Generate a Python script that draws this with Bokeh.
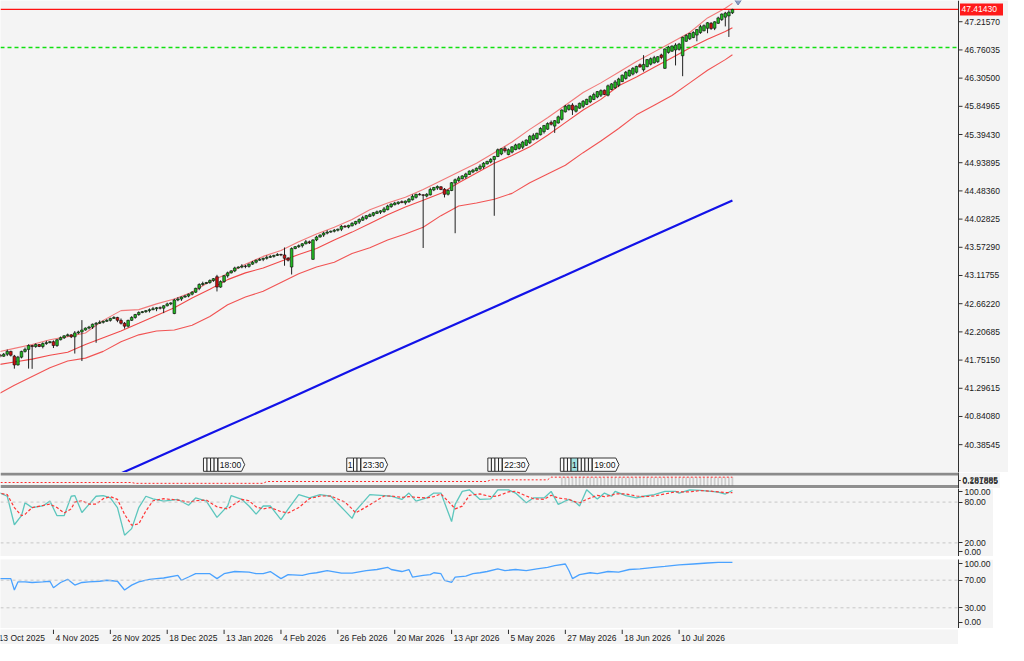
from bokeh.plotting import figure
from bokeh.layouts import column
from bokeh.models import (Range1d, FixedTicker, Span, PrintfTickFormatter,
                          CustomJSTickFormatter, Grid, BoxAnnotation)
from bokeh.core.properties import value
from bokeh.embed import file_html
from bokeh.resources import INLINE

BG = "#f4f4f4"
FONT = "Liberation Sans"
FS = "8.5px"
FW = 958          # plotting-frame width (px)
AW = 50           # width of the price-axis strip of the main panel (px)

# ---------------- data ----------------
tick_bars = [0, 16, 32, 48, 64, 80, 96, 112, 128, 144, 160, 176, 192]
date_labels = ["13 Oct 2025", "4 Nov 2025", "26 Nov 2025", "18 Dec 2025", "13 Jan 2026",
               "4 Feb 2026", "26 Feb 2026", "20 Mar 2026", "13 Apr 2026", "5 May 2026",
               "27 May 2026", "18 Jun 2026", "10 Jul 2026"]

price_ticks = [40.38545, 40.84080, 41.29615, 41.75150, 42.20685, 42.66220, 43.11755, 43.57290,
               44.02825, 44.48360, 44.93895, 45.39430, 45.84965, 46.30500, 46.76035, 47.21570]

closes = [
    41.830, 41.814, 41.846, 41.892, 41.830, 41.673, 41.799, 41.892, 41.924, 41.986,
    41.970, 42.002, 41.971, 42.018, 42.033, 42.049, 41.986, 42.080, 42.112, 42.143,
    42.159, 42.127, 42.190, 42.206, 42.237, 42.268, 42.284, 42.331, 42.346, 42.362,
    42.378, 42.393, 42.425, 42.440, 42.393, 42.346, 42.299, 42.393, 42.440, 42.487,
    42.519, 42.534, 42.550, 42.566, 42.581, 42.597, 42.590, 42.628, 42.659, 42.675,
    42.722, 42.738, 42.769, 42.785, 42.816, 42.847, 42.910, 42.972, 42.988, 43.004,
    43.035, 43.066, 42.930, 43.019, 43.113, 43.160, 43.192, 43.239, 43.254, 43.270,
    43.265, 43.301, 43.332, 43.364, 43.379, 43.395, 43.411, 43.426, 43.442, 43.458,
    43.450, 43.395, 43.364, 43.552, 43.583, 43.599, 43.630, 43.661, 43.646, 43.692,
    43.739, 43.771, 43.802, 43.818, 43.833, 43.849, 43.865, 43.912, 43.900, 43.927,
    43.959, 43.990, 44.021, 44.052, 44.084, 44.099, 44.131, 44.146, 44.162, 44.193,
    44.240, 44.272, 44.287, 44.303, 44.295, 44.319, 44.350, 44.397, 44.428, 44.420,
    44.412, 44.428, 44.506, 44.538, 44.553, 44.506, 44.428, 44.491, 44.616, 44.663,
    44.694, 44.726, 44.757, 44.804, 44.819, 44.851, 44.882, 44.929, 44.960, 44.992,
    45.039, 45.148, 45.164, 45.132, 45.148, 45.195, 45.226, 45.242, 45.273, 45.305,
    45.367, 45.383, 45.414, 45.492, 45.539, 45.571, 45.560, 45.618, 45.680, 45.790,
    45.852, 45.868, 45.790, 45.852, 45.899, 45.931, 45.962, 46.009, 46.040, 46.087,
    46.103, 46.040, 46.181, 46.212, 46.244, 46.291, 46.353, 46.400, 46.432, 46.463,
    46.494, 46.485, 46.526, 46.604, 46.619, 46.635, 46.651, 46.640, 46.776, 46.807,
    46.823, 46.839, 46.854, 46.964, 46.995, 47.026, 47.042, 47.089, 47.136, 47.152,
    47.199, 47.105, 47.214, 47.277, 47.339, 47.355, 47.371, 47.4143,
]

opens = [
    41.845, 41.830, 41.814, 41.846, 41.892, 41.815, 41.673, 41.799, 41.892, 41.924,
    41.986, 41.970, 42.002, 41.971, 42.018, 42.033, 42.049, 41.986, 42.080, 42.112,
    42.143, 42.159, 42.127, 42.190, 42.206, 42.237, 42.268, 42.284, 42.331, 42.346,
    42.362, 42.378, 42.393, 42.425, 42.440, 42.393, 42.346, 42.299, 42.393, 42.440,
    42.487, 42.519, 42.534, 42.550, 42.566, 42.581, 42.597, 42.590, 42.628, 42.659,
    42.503, 42.722, 42.738, 42.769, 42.785, 42.816, 42.847, 42.910, 42.972, 42.988,
    43.004, 43.035, 43.098, 42.930, 43.019, 43.113, 43.160, 43.192, 43.239, 43.254,
    43.270, 43.265, 43.301, 43.332, 43.364, 43.379, 43.395, 43.411, 43.426, 43.442,
    43.458, 43.450, 43.395, 43.254, 43.552, 43.583, 43.599, 43.630, 43.661, 43.379,
    43.692, 43.739, 43.771, 43.802, 43.818, 43.833, 43.849, 43.865, 43.912, 43.900,
    43.920, 43.950, 43.980, 44.010, 44.040, 44.070, 44.090, 44.120, 44.140, 44.150,
    44.180, 44.230, 44.260, 44.280, 44.310, 44.290, 44.310, 44.340, 44.380, 44.430,
    44.420, 44.400, 44.420, 44.500, 44.530, 44.550, 44.510, 44.430, 44.490, 44.610,
    44.650, 44.680, 44.710, 44.750, 44.790, 44.810, 44.840, 44.870, 44.920, 44.950,
    44.992, 45.039, 45.080, 45.170, 45.070, 45.110, 45.150, 45.170, 45.190, 45.220,
    45.260, 45.310, 45.330, 45.390, 45.440, 45.480, 45.590, 45.530, 45.580, 45.640,
    45.760, 45.800, 45.870, 45.770, 45.820, 45.850, 45.880, 45.920, 45.960, 46.000,
    46.030, 46.110, 46.030, 46.120, 46.150, 46.190, 46.250, 46.300, 46.340, 46.370,
    46.400, 46.520, 46.440, 46.490, 46.530, 46.550, 46.570, 46.680, 46.463, 46.720,
    46.740, 46.760, 46.770, 46.666, 46.900, 46.940, 46.960, 47.000, 47.040, 47.070,
    47.110, 47.190, 47.110, 47.190, 47.250, 47.290, 47.310, 47.360,
]

# wick lengths above / below the body, in hundredths of a price unit
up_wick = [
    2, 1, 2, 3, 1, 2, 2, 1, 3, 2, 1, 2, 1, 2, 3, 1, 2, 1, 2, 1,
    2, 1, 3, 2, 16, 1, 2, 1, 2, 3, 1, 2, 1, 2, 1, 3, 2, 1, 2, 1,
    2, 1, 1, 2, 3, 1, 2, 1, 2, 1, 2, 3, 1, 2, 1, 2, 1, 2, 3, 1,
    2, 1, 3, 2, 1, 2, 1, 2, 1, 3, 2, 1, 2, 1, 2, 1, 3, 2, 1, 2,
    1, 12, 2, 2, 1, 2, 1, 3, 2, 1, 2, 1, 2, 3, 1, 2, 1, 2, 2, 1,
    2, 1, 2, 3, 1, 2, 1, 2, 1, 3, 2, 1, 2, 1, 2, 1, 2, 3, 1, 2,
    1, 2, 3, 1, 2, 1, 2, 2, 1, 2, 3, 1, 2, 1, 2, 1, 3, 2, 1, 2,
    1, 2, 1, 3, 2, 1, 2, 1, 2, 1, 2, 3, 1, 2, 1, 2, 3, 1, 2, 1,
    2, 1, 3, 2, 1, 2, 1, 2, 3, 1, 2, 1, 2, 1, 3, 2, 1, 2, 1, 2,
    1, 2, 15, 1, 2, 3, 1, 2, 1, 2, 1, 3, 2, 1, 2, 1, 2, 1, 3, 2,
    1, 2, 1, 2, 1, 2, 3, 1,
]
dn_wick = [
    2, 2, 1, 3, 2, 6, 1, 2, 2, 31, 36, 2, 1, 3, 2, 1, 4, 2, 1, 2,
    1, 2, 27, 2, 47, 1, 2, 3, 30, 1, 2, 1, 2, 1, 3, 2, 4, 2, 1, 2,
    2, 1, 2, 3, 1, 4, 2, 8, 1, 2, 1, 2, 3, 1, 2, 2, 1, 3, 2, 1,
    2, 2, 7, 1, 2, 3, 1, 2, 1, 2, 3, 2, 1, 2, 1, 3, 2, 1, 2, 1,
    2, 12, 2, 12, 1, 2, 3, 1, 2, 1, 2, 1, 3, 2, 1, 2, 2, 3, 1, 2,
    1, 2, 3, 1, 2, 1, 2, 1, 3, 2, 1, 2, 1, 2, 1, 3, 2, 1, 2, 1,
    85, 2, 1, 2, 3, 1, 5, 2, 1, 81, 2, 1, 3, 1, 2, 1, 2, 3, 1, 2,
    91, 1, 2, 3, 1, 2, 1, 2, 3, 1, 2, 1, 2, 1, 3, 1, 2, 11, 1, 2,
    1, 2, 8, 2, 1, 3, 1, 2, 1, 2, 3, 1, 2, 1, 2, 3, 1, 2, 1, 2,
    2, 1, 3, 1, 2, 1, 2, 3, 1, 2, 1, 25, 2, 33, 1, 2, 1, 10, 2, 1,
    8, 2, 3, 1, 2, 15, 34, 2,
]

band_bars = [0, 5, 10, 15, 20, 25, 30, 35, 40, 45, 50, 55, 60, 65, 70, 75, 80, 85, 90, 95, 100,
             105, 110, 115, 120, 125, 130, 135, 140, 145, 150, 155, 160, 165, 170, 175, 180,
             185, 190, 195, 200, 205, 207]
upper_band = [41.877, 41.940, 42.002, 42.080, 42.130, 42.190, 42.393, 42.550, 42.566, 42.659,
              42.738, 42.847, 43.019, 43.145, 43.301, 43.426, 43.520, 43.661, 43.786, 43.896,
              44.021, 44.178, 44.287, 44.381, 44.506, 44.647, 44.788, 44.929, 45.101, 45.273,
              45.477, 45.665, 45.868, 46.072, 46.228, 46.400, 46.572, 46.729, 46.886, 47.042,
              47.277, 47.433, 47.512]
middle_band = [41.673, 41.720, 41.767, 41.830, 41.877, 42.002, 42.112, 42.221, 42.346, 42.472,
               42.597, 42.753, 42.894, 43.051, 43.160, 43.239, 43.348, 43.458, 43.552, 43.692,
               43.818, 43.959, 44.099, 44.225, 44.334, 44.444, 44.616, 44.772, 44.929, 45.054,
               45.195, 45.383, 45.586, 45.790, 45.962, 46.181, 46.322, 46.479, 46.635, 46.792,
               46.932, 47.058, 47.120]
lower_band = [41.188, 41.345, 41.486, 41.626, 41.736, 41.783, 41.892, 42.049, 42.159, 42.221,
              42.237, 42.315, 42.456, 42.644, 42.769, 42.863, 43.004, 43.145, 43.254, 43.332,
              43.473, 43.567, 43.692, 43.786, 43.896, 44.084, 44.240, 44.287, 44.350, 44.444,
              44.616, 44.757, 44.898, 45.101, 45.289, 45.492, 45.712, 45.868, 46.025, 46.228,
              46.432, 46.604, 46.682]

ma_bars = [0, 20, 40, 60, 80, 100, 120, 140, 160, 180, 200, 207]
ma_values = [39.02, 39.54, 40.05, 40.56, 41.07, 41.59, 42.10, 42.61, 43.12, 43.64, 44.15, 44.33]

alert_level = 46.80
marker_bar = 208.6
marker_price = 47.575

vol_hist_bars = list(range(159, 208))
vol_hist = [0.24, 0.25, 0.25, 0.24, 0.25, 0.25, 0.25, 0.24, 0.25, 0.25,
            0.25, 0.25, 0.24, 0.25, 0.25, 0.25, 0.25, 0.25, 0.24, 0.25,
            0.25, 0.25, 0.25, 0.25, 0.25, 0.24, 0.25, 0.25, 0.25, 0.25,
            0.25, 0.25, 0.24, 0.25, 0.25, 0.25, 0.25, 0.25, 0.25, 0.25,
            0.24, 0.25, 0.25, 0.25, 0.25, 0.25, 0.25, 0.25, 0.25]
vol_signal_bars = [0, 38, 39, 75, 76, 138, 139, 155, 156, 207]
vol_signal = [0.09, 0.09, 0.065, 0.065, 0.12, 0.12, 0.17, 0.17, 0.25, 0.25]
vol_scale_labels = ["0.181885", "0.287885"]

stoch_bars = [0, 1, 3, 5, 7, 8, 10, 13, 15, 17, 19, 21, 22, 24, 26, 28, 30, 32, 34, 36, 38, 40,
              42, 44, 47, 51, 54, 56, 59, 62, 65, 66, 69, 71, 73, 75, 77, 80, 82, 85, 88, 91,
              94, 98, 100, 101, 105, 109, 111, 114, 116, 118, 121, 123, 125, 128, 129, 131,
              133, 136, 139, 141, 144, 146, 149, 151, 154, 156, 158, 161, 163, 164, 166, 168,
              169, 171, 173, 174, 177, 180, 182, 185, 188, 191, 192, 195, 198, 201, 203, 205, 207]
stoch_k = [95, 93.3, 88.6, 46.7, 60, 79, 71.9, 74.3, 81.4, 60, 60, 88.6, 89.6, 64.7, 76.7, 88.6,
           89.6, 86.1, 71.9, 31.4, 41, 71.9, 88.6, 84.7, 81.4, 83.9, 75.3, 86.1, 81.4, 57.6,
           74.3, 89.6, 83.9, 74.3, 62.4, 74.3, 74.3, 54.3, 69.6, 91, 86.1, 91, 88.6, 67.1,
           56.1, 67.1, 91, 89.6, 88.6, 83.9, 93.3, 81.4, 86.1, 93.3, 93.3, 51.4, 76.7, 95.7,
           98.1, 83.9, 84.7, 98.1, 98.1, 93.3, 79, 86.1, 86.1, 95.7, 76.7, 83.9, 79, 74.3,
           98.1, 88.6, 84.7, 93.3, 88.6, 95.7, 89.6, 86.1, 88.6, 91, 95.7, 95.7, 93.3, 98.1,
           97.1, 95.7, 94.7, 91.9, 97.1]
stoch_d = [92, 93, 91, 72, 60, 62, 72, 75, 77, 72, 64, 70, 80, 82, 77, 77, 85, 88, 84, 62,
           46, 48, 67, 82, 85, 83, 80, 82, 83, 73, 70, 74, 84, 82, 73, 70, 72, 66, 64, 72,
           85, 89, 89, 80, 70, 64, 76, 89, 89, 87, 88, 87, 86, 88, 92, 76, 70, 74, 90, 92,
           88, 89, 95, 96, 89, 85, 84, 90, 86, 84, 80, 79, 84, 88, 90, 88, 90, 92, 92, 89,
           88, 89, 92, 95, 95, 95, 97, 96, 95, 94, 94]

rsi_bars = [0, 1, 4, 5, 6, 8, 10, 13, 15, 16, 18, 20, 22, 24, 26, 29, 31, 34, 36, 38, 40, 43,
            45, 47, 51, 52, 54, 56, 60, 62, 64, 67, 71, 73, 75, 77, 80, 82, 86, 88, 90, 93,
            97, 100, 104, 107, 110, 111, 114, 116, 117, 120, 122, 123, 125, 126, 128, 129,
            132, 134, 136, 138, 141, 143, 146, 149, 152, 155, 157, 160, 161, 162, 164, 167,
            169, 172, 175, 178, 181, 185, 188, 192, 196, 200, 203, 207]
rsi_vals = [72, 72.3, 72.3, 55.8, 67.5, 67.5, 66.7, 67.5, 68.5, 59, 66.7, 71.3, 62.9, 66.7,
            67.5, 68.5, 69.9, 68.5, 55.8, 62.9, 67.5, 71.3, 72.3, 73.2, 77, 69.9, 74.6, 79.4,
            79.4, 72.3, 79.4, 82.6, 81.6, 79.4, 79.4, 82.6, 72.3, 78, 77, 79.4, 80.8, 84,
            80.2, 80.2, 84, 85.5, 88.7, 85.5, 82.6, 85.5, 74.6, 77, 78, 80.8, 79.4, 69.9,
            66.7, 74.6, 76, 79.4, 80.8, 82.6, 86.4, 84, 85.5, 84, 86.4, 88.7, 91.1, 93.5,
            84, 72.3, 78, 80.8, 79.4, 82.6, 81.6, 85.5, 86.4, 88.7, 90.1, 92.1, 93.5, 94.9,
            95.8, 95.8]

# economic-calendar flags: first bar, boxes ("" narrow, "1" numbered), time label
event_starts = [58.2, 98.5, 138.2, 158.6]
event_boxes = [["", "", "", ""], ["1", "", ""], ["", "", "", ""],
               ["", "", "", "1", "", "", "", ""]]
event_times = ["18:00", "23:30", "22:30", "19:00"]
event_highlight = [None, None, None, 3]
flag_bottom, flag_top = 39.955, 40.17

n = len(closes)
assert len(opens) == n and len(up_wick) == n and len(dn_wick) == n
assert len(upper_band) == len(band_bars) == len(middle_band) == len(lower_band)
assert len(stoch_k) == len(stoch_bars) == len(stoch_d)
assert len(rsi_vals) == len(rsi_bars)
assert len(vol_hist) == len(vol_hist_bars)

bars = list(range(n))
body_top = [max(o, c) for o, c in zip(opens, closes)]
body_bot = [min(o, c) for o, c in zip(opens, closes)]
highs = [t + u / 100 for t, u in zip(body_top, up_wick)]
lows = [b - d / 100 for b, d in zip(body_bot, dn_wick)]
body_col = ["#22b822" if c >= o else "#cc1010" for o, c in zip(opens, closes)]

X0, X1 = 1.1, 270.6                       # visible bar range of the plotting frames
xr = Range1d(X0, X1)
bars_per_px = (X1 - X0) / FW
xr_main = Range1d(X0, X1 + AW * bars_per_px)   # main panel also covers its price-axis strip


def style_axis(ax):
    ax.axis_line_color = "#303030"
    ax.major_tick_line_color = "#303030"
    ax.major_tick_out = 4
    ax.major_tick_in = 0
    ax.minor_tick_line_color = None
    ax.major_label_text_font = FONT
    ax.major_label_text_font_size = FS
    ax.major_label_text_color = "#1a1a1a"
    ax.major_label_standoff = 2


def panel(h, yr, axis=True, bg=BG, width=FW, x_range=xr):
    f = figure(frame_width=width, frame_height=h, x_range=x_range, y_range=yr,
               toolbar_location=None, output_backend="svg",
               x_axis_location=None, y_axis_location="right" if axis else None,
               min_border=0, background_fill_color=bg, border_fill_color=BG,
               outline_line_color=None)
    for g in f.select(type=Grid):
        g.visible = False
    if axis:
        style_axis(f.yaxis[0])
    return f


def strip(h, color):
    return panel(h, Range1d(0, 1), axis=False, bg=color)


# ---------------- main price panel ----------------
main = panel(472, Range1d(39.936, 47.5585), axis=False, width=FW + AW, x_range=xr_main)

# price scale drawn at the right edge of the bar area
main.add_layout(Span(location=X1, dimension="height", line_color="#303030", line_width=1))
main.segment(x0=[X1] * len(price_ticks), y0=price_ticks,
             x1=[X1 + 4 * bars_per_px] * len(price_ticks), y1=price_ticks,
             line_color="#303030", line_width=1)
main.text(x=[X1] * len(price_ticks), y=price_ticks, text=["%.5f" % t for t in price_ticks],
          x_offset=6, text_font=value(FONT), text_font_size=value(FS), text_align="left",
          text_baseline="middle", text_color="#1a1a1a")

main.segment(x0=[X0], y0=[alert_level], x1=[X1], y1=[alert_level], line_color="#10e010",
             line_dash="4 3", line_width=1.4)
main.segment(x0=[X0], y0=[closes[-1]], x1=[X1], y1=[closes[-1]], line_color="#ff1010",
             line_width=1.2)

main.line(ma_bars, ma_values, line_color="#1212e8", line_width=2.2)
for band, a in ((upper_band, 0.6), (middle_band, 0.85), (lower_band, 0.8)):
    main.line(band_bars, band, line_color="#f02a2a", line_alpha=a, line_width=1.1)

main.segment(x0=bars, y0=lows, x1=bars, y1=highs, line_color="#202020", line_width=1)
main.vbar(x=bars, width=0.75, top=body_top, bottom=body_bot, fill_color=body_col,
          line_color="#0a0a0a", line_width=0.6)

main.scatter([marker_bar], [marker_price], marker="diamond", size=11,
             fill_color="#8a9cc4", line_color="#6f82ad")

for start, boxes, tlabel, hl in zip(event_starts, event_boxes, event_times, event_highlight):
    x = start
    lefts, rights, fills, num_x, num_t = [], [], [], [], []
    for k, b in enumerate(boxes):
        w = 1.9 if b else 1.0
        lefts.append(x)
        rights.append(x + w)
        fills.append("#9fe0e0" if hl == k else "#fbfbfb")
        if b:
            num_x.append(x + w / 2)
            num_t.append(b)
        x += w
    mid = (flag_bottom + flag_top) / 2
    main.quad(left=lefts, right=rights, bottom=flag_bottom, top=flag_top,
              fill_color=fills, line_color="#202020", line_width=0.9)
    if num_t:
        main.text(num_x, [mid] * len(num_t), text=num_t, text_font=value(FONT),
                  text_font_size=value("8.5px"), text_align="center", text_baseline="middle",
                  text_color="#111111")
    main.patch([x + 0.1, x + 6.7, x + 7.6, x + 6.7, x + 0.1],
               [flag_bottom, flag_bottom, mid, flag_top, flag_top],
               fill_color="#fbfbfb", line_color="#202020", line_width=0.9)
    main.text([x + 3.6], [mid], text=[tlabel], text_font=value(FONT),
              text_font_size=value("8.5px"), text_align="center", text_baseline="middle",
              text_color="#111111")

# current-price tag on the price scale
main.rect(x=[X1 + 23 * bars_per_px], y=[closes[-1]], width=43, height=12,
          width_units="screen", height_units="screen", fill_color="#ff1a1a",
          line_color=None)
main.text(x=[X1], y=[closes[-1]], text=["%.5f" % closes[-1]], x_offset=3,
          text_font=value(FONT), text_font_size=value(FS), text_align="left",
          text_baseline="middle", text_color="white")

# ---------------- small histogram panel (with its separators) ----------------
vol = panel(16, Range1d(-0.09, 0.39))
vol.add_layout(BoxAnnotation(bottom=0.30, top=0.39, fill_color="#8a8a8a", fill_alpha=1,
                             line_color=None))
vol.add_layout(BoxAnnotation(bottom=-0.03, top=0.0, fill_color="#2a2a2a", fill_alpha=1,
                             line_color=None))
vol.add_layout(BoxAnnotation(bottom=-0.09, top=-0.06, fill_color="#2a2a2a", fill_alpha=1,
                             line_color=None))
vol.vbar(x=vol_hist_bars, top=vol_hist, bottom=0, width=0.5, fill_color="#cdcdcd",
         line_color=None)
vol.line(vol_signal_bars, vol_signal, line_color="#ff2a2a", line_dash="2 2", line_width=1)
vol.yaxis.ticker = FixedTicker(ticks=[0.145, 0.155])
vol.yaxis.formatter = CustomJSTickFormatter(
    args=dict(labels=vol_scale_labels),
    code="return tick > 0.15 ? labels[1] : labels[0];")
vol.yaxis.major_tick_out = 2

# ---------------- stochastic ----------------
st = panel(68, Range1d(0, 100))
for lv in (80, 20):
    st.add_layout(Span(location=lv, dimension="width", line_color="#c6c6c6",
                       line_dash="3 3", line_width=1))
st.line(stoch_bars, stoch_k, line_color="#5cc6bd", line_width=1.3)
st.line(stoch_bars, stoch_d, line_color="#ff3535", line_dash="3 2", line_width=1.2)
st.yaxis.ticker = FixedTicker(ticks=[7, 20, 80, 96])
st.yaxis.formatter = PrintfTickFormatter(format="%.2f")
st.yaxis.major_label_overrides = {7: "0.00", 96: "100.00"}

# ---------------- RSI ----------------
rs = panel(69, Range1d(0, 100))
for lv in (70, 30):
    rs.add_layout(Span(location=lv, dimension="width", line_color="#c6c6c6",
                       line_dash="3 3", line_width=1))
rs.line(rsi_bars, rsi_vals, line_color="#4aa2ff", line_width=1.3)
rs.yaxis.ticker = FixedTicker(ticks=[9, 30, 70, 94])
rs.yaxis.formatter = PrintfTickFormatter(format="%.2f")
rs.yaxis.major_label_overrides = {9: "0.00", 94: "100.00"}

# ---------------- date row ----------------
dates = panel(15, Range1d(0, 15), axis=False)
dates.segment(x0=tick_bars, y0=15, x1=tick_bars, y1=10.5, line_color="#303030",
              line_width=1)
dates.text(x=tick_bars, y=7.0, text=date_labels, x_offset=2, text_font=value(FONT),
           text_font_size=value(FS), text_align="left", text_baseline="middle",
           text_color="#1a1a1a")

layout = column(
    main, vol, st,
    strip(1, "#2a2a2a"), strip(1, BG), strip(1, "#2a2a2a"),
    rs, strip(1, "#2a2a2a"), dates,
    spacing=0,
)

open("out.html", "w").write(file_html(layout, INLINE))
